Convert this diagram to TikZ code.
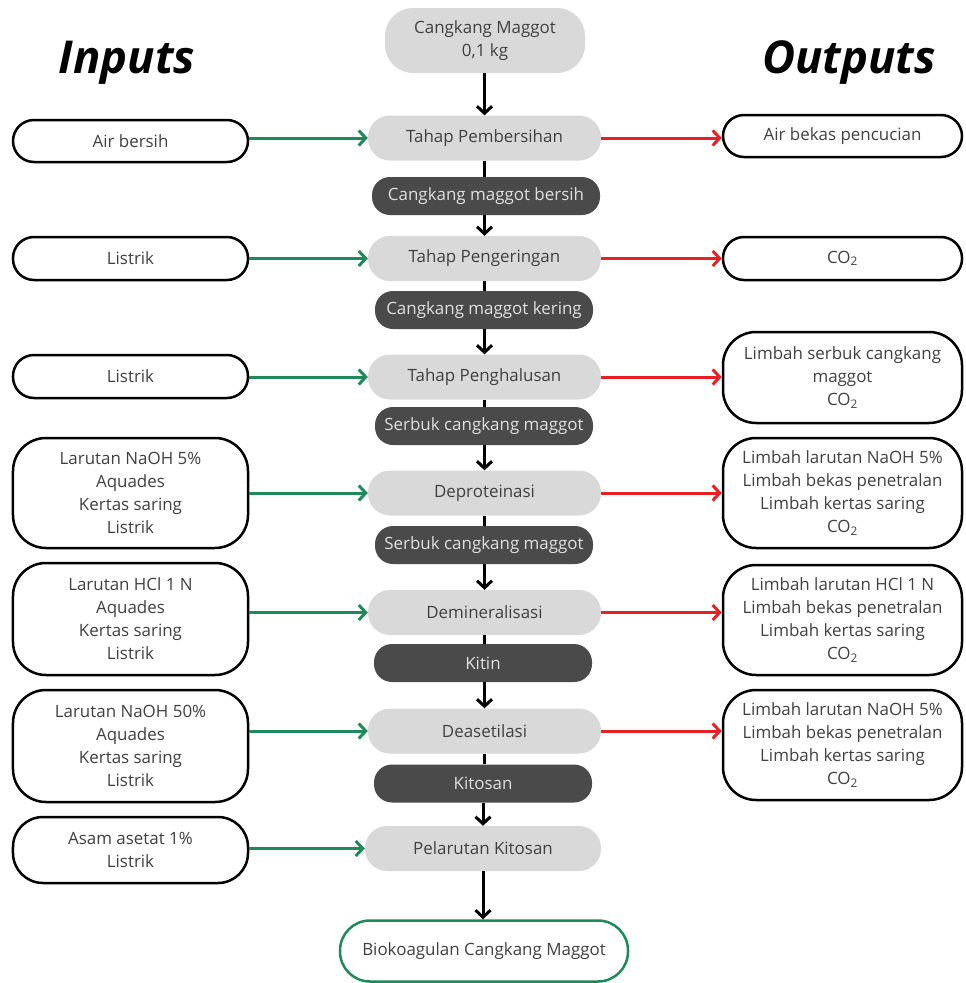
\documentclass[tikz,border=0pt]{standalone}
\usepackage{fontspec}
\setmainfont{Open Sans}
\usepackage{tikz}
\usetikzlibrary{arrows.meta}

\definecolor{procgray}{RGB}{217,217,217}
\definecolor{prodgray}{RGB}{74,74,74}
\definecolor{txtgray}{RGB}{64,64,64}
\definecolor{ingreen}{RGB}{30,138,90}
\definecolor{outred}{RGB}{232,32,36}

\tikzset{
  procbox/.style={fill=procgray, text=txtgray, rounded corners=22bp,
    minimum width=233bp, minimum height=45bp, inner sep=0pt},
  prodbox/.style={fill=prodgray, text=white!88!black, rounded corners=18bp,
    minimum width=218bp, minimum height=38bp, inner sep=0pt},
  inbox/.style={draw=black, line width=2.5bp, fill=white, text=txtgray,
    rounded corners=21bp, minimum width=235bp, minimum height=42bp,
    align=center, inner sep=0pt},
  outbox/.style={inbox, minimum width=239bp},
  flow/.style={-{Straight Barb[length=7bp,width=15bp,line width=3bp]}, line width=3bp},
  inarrow/.style={flow, draw=ingreen},
  outarrow/.style={flow, draw=outred},
}

\begin{document}
\begin{tikzpicture}[x=1bp, y=-1bp, font=\fontsize{17}{23}\selectfont]
    \useasboundingbox (0,0) rectangle (966,983);

    % Titles
    \node (intitle) at (127,63) {\fontsize{45.5}{50}\selectfont\bfseries\itshape Inputs};
    \node (outtitle) at (849,63) {\fontsize{45.5}{50}\selectfont\bfseries\itshape Outputs};

    % Main process column
    \node[procbox, minimum width=200bp, minimum height=65bp, rounded corners=28bp, align=center]
        (start) at (485,40.5) {Cangkang Maggot\\0,1 kg};
    \node[procbox] (p1) at (484.5,138) {Tahap Pembersihan};
    \node[prodbox, minimum width=228bp] (d1) at (486,196) {Cangkang maggot bersih};
    \node[procbox] (p2) at (484.5,258.5) {Tahap Pengeringan};
    \node[prodbox] (d2) at (484,310) {Cangkang maggot kering};
    \node[procbox] (p3) at (484.5,377) {Tahap Penghalusan};
    \node[prodbox] (d3) at (484,426) {Serbuk cangkang maggot};
    \node[procbox] (p4) at (484.5,493) {Deproteinasi};
    \node[prodbox] (d4) at (484,545) {Serbuk cangkang maggot};
    \node[procbox] (p5) at (484.5,612.5) {Demineralisasi};
    \node[prodbox] (d5) at (483,663) {Kitin};
    \node[procbox] (p6) at (484.5,731) {Deasetilasi};
    \node[prodbox] (d6) at (483,783.5) {Kitosan};
    \node[procbox, minimum width=236bp] (p7) at (483,848.5) {Pelarutan Kitosan};
    \node[draw=ingreen, line width=2.5bp, fill=white, text=txtgray, rounded corners=30bp,
        minimum width=288bp, minimum height=61bp] (final) at (484,951) {Biokoagulan Cangkang Maggot};

    % Inputs
    \node[inbox] (in1) at (130.5,141) {Air bersih};
    \node[inbox, minimum height=43bp] (in2) at (130.5,258.5) {Listrik};
    \node[inbox, minimum height=43bp] (in3) at (130.5,376.5) {Listrik};
    \node[inbox, minimum height=110bp, rounded corners=33bp] (in4) at (130.5,493)
        {Larutan NaOH 5\%\\Aquades\\Kertas saring\\Listrik};
    \node[inbox, minimum height=112bp, rounded corners=33bp] (in5) at (130.5,619)
        {Larutan HCl 1 N\\Aquades\\Kertas saring\\Listrik};
    \node[inbox, minimum height=112bp, rounded corners=33bp] (in6) at (130.5,746)
        {Larutan NaOH 50\%\\Aquades\\Kertas saring\\Listrik};
    \node[inbox, minimum height=66bp, rounded corners=30bp] (in7) at (130.5,850)
        {Asam asetat 1\%\\Listrik};

    % Outputs
    \node[outbox] (out1) at (842.5,136) {Air bekas pencucian};
    \node[outbox, minimum height=43bp] (out2) at (842.5,258.5) {CO\textsubscript{2}};
    \node[outbox, minimum height=91bp, rounded corners=33bp] (out3) at (842.5,377.5)
        {Limbah serbuk cangkang\\maggot\\CO\textsubscript{2}};
    \node[outbox, minimum height=110bp, rounded corners=33bp] (out4) at (842.5,493)
        {Limbah larutan NaOH 5\%\\Limbah bekas penetralan\\Limbah kertas saring\\CO\textsubscript{2}};
    \node[outbox, minimum height=110bp, rounded corners=33bp] (out5) at (842.5,620)
        {Limbah larutan HCl 1 N\\Limbah bekas penetralan\\Limbah kertas saring\\CO\textsubscript{2}};
    \node[outbox, minimum height=110bp, rounded corners=33bp] (out6) at (842.5,745)
        {Limbah larutan NaOH 5\%\\Limbah bekas penetralan\\Limbah kertas saring\\CO\textsubscript{2}};

    % Down the column
    \draw[flow] (start.south -| p1) -- (p1.north);
    \foreach \i/\j in {1/2,2/3,3/4,4/5,5/6,6/7} {
        \draw[line width=3bp] (p\i.south) -- (p\i.south |- d\i.north);
        \draw[flow] (d\i.south -| p\j) -- (p\j.north);
    }
    \draw[flow] (p7.south) -- (p7.south |- final.north);

    % Inputs in (green), waste out (red)
    \foreach \i in {1,...,7}
        \draw[inarrow] (p\i.west -| in\i.east) -- (p\i.west);
    \foreach \i in {1,...,6}
        \draw[outarrow] (p\i.east) -- (p\i.east -| out\i.west);

\end{tikzpicture}
\end{document}
